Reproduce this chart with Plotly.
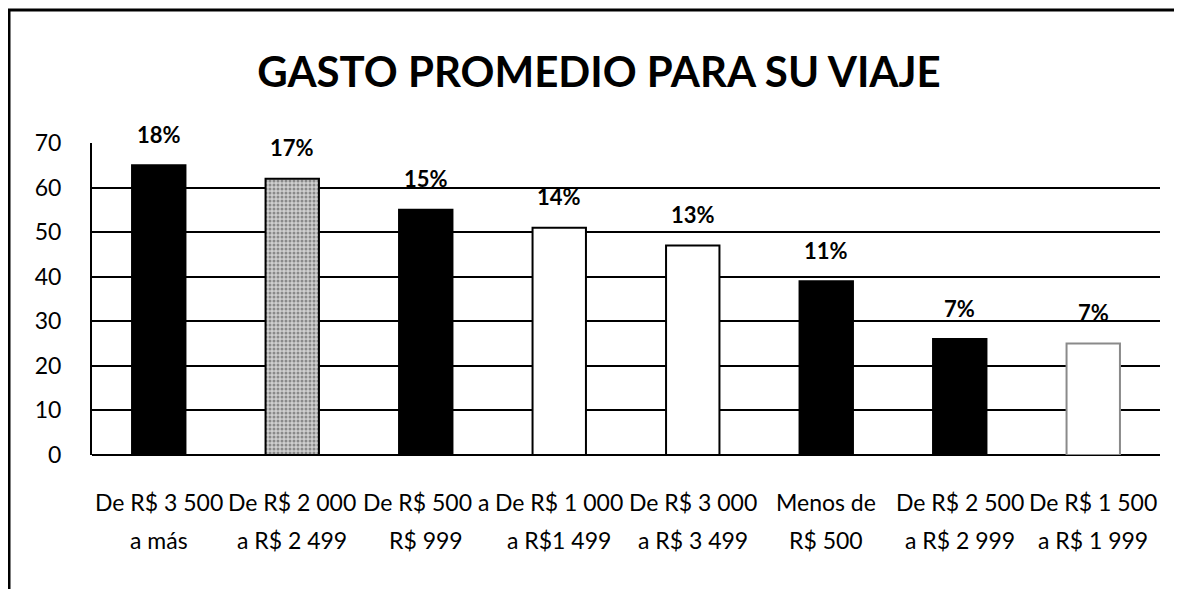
import plotly.graph_objects as go

categories = ["c1", "c2", "c3", "c4", "c5", "c6", "c7", "c8"]
label_line1 = ["De R$ 3 500", "De R$ 2 000", "De R$ 500 a", "De R$ 1 000", "De R$ 3 000",
               "Menos de", "De R$ 2 500", "De R$ 1 500"]
label_line2 = ["a más", "a R$ 2 499", "R$ 999", "a R$1 499", "a R$ 3 499",
               "R$ 500", "a R$ 2 999", "a R$ 1 999"]
values = [65, 62, 55, 51, 47, 39, 26, 25]
percent_labels = ["18%", "17%", "15%", "14%", "13%", "11%", "7%", "7%"]
bar_colors = ["black", "#cfcfcf", "black", "white", "white", "black", "black", "white"]
bar_outline = ["black", "black", "black", "black", "black", "black", "black", "#8a8a8a"]
pattern_shapes = ["", ".", "", "", "", "", "", ""]
y_ticks = [0, 10, 20, 30, 40, 50, 60, 70]

FONT = "Lato"
W, H = 1174, 581
L, T, PH = 84, 135, 312
R = 22
PW = W - L - R

fig = go.Figure()
fig.add_trace(go.Bar(
    x=categories, y=values,
    marker=dict(
        color=bar_colors,
        line=dict(color=bar_outline, width=2),
        pattern=dict(shape=pattern_shapes, fgcolor="#1a1a1a", bgcolor="#d0d0d0",
                     size=4, solidity=0.45, fillmode="overlay"),
    ),
    width=0.40,
    hoverinfo="skip",
))

annotations = []
for c, v, t in zip(categories, values, percent_labels):
    annotations.append(dict(x=c, y=v, xref="x", yref="y", text="<b>" + t + "</b>",
                            showarrow=False, yanchor="middle", yshift=31,
                            font=dict(family=FONT, size=22, color="black")))
for c, l1, l2 in zip(categories, label_line1, label_line2):
    annotations.append(dict(x=c, y=0, xref="x", yref="paper", text=l1, showarrow=False,
                            yanchor="middle", yshift=-47,
                            font=dict(family=FONT, size=23, color="black")))
    annotations.append(dict(x=c, y=0, xref="x", yref="paper", text=l2, showarrow=False,
                            yanchor="middle", yshift=-85,
                            font=dict(family=FONT, size=23, color="black")))

fig.update_layout(
    width=W, height=H,
    margin=dict(l=L, r=R, t=T, b=H - T - PH, pad=0),
    paper_bgcolor="white", plot_bgcolor="white",
    showlegend=False,
    title=dict(text="<b>GASTO PROMEDIO PARA SU VIAJE</b>", x=591 / W, xref="container",
               xanchor="center", y=1 - 64 / H, yref="container", yanchor="middle",
               font=dict(family=FONT, size=42, color="black")),
    xaxis=dict(showticklabels=False, showgrid=False, showline=False, zeroline=False,
               ticks="", range=[-0.5, 7.5]),
    yaxis=dict(range=[0, 70], tickvals=y_ticks, showgrid=True, gridcolor="black",
               gridwidth=2, showline=True, linecolor="black", linewidth=2,
               zeroline=True, zerolinecolor="black", zerolinewidth=2,
               ticks="", ticklabelstandoff=24,
               tickfont=dict(family=FONT, size=23, color="black")),
    annotations=annotations,
    shapes=[
        dict(type="line", xref="paper", yref="paper", x0=(0 - L) / PW, x1=(W - L) / PW,
             y0=1 + (T - 2) / PH, y1=1 + (T - 2) / PH, line=dict(color="black", width=3)),
        dict(type="line", xref="paper", yref="paper", x0=(1 - L) / PW, x1=(1 - L) / PW,
             y0=1 + (T - 2) / PH, y1=(T + PH - H) / PH, line=dict(color="black", width=3)),
    ],
)

fig.write_html("out.html")
